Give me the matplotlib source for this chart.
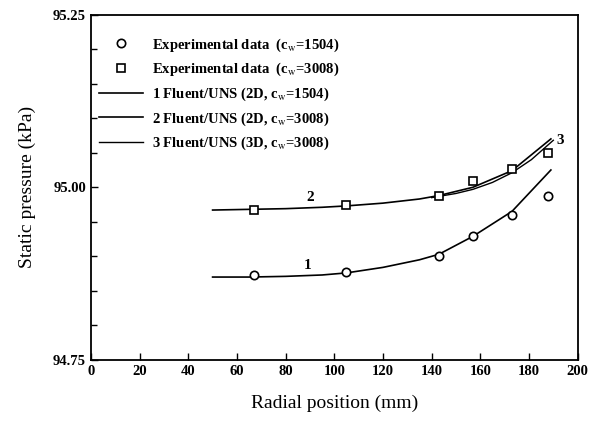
import numpy as np
import matplotlib.pyplot as plt
from matplotlib.ticker import MultipleLocator

plt.rcParams['font.family'] = ['Liberation Serif', 'DejaVu Serif']
plt.rcParams['mathtext.fontset'] = 'stix'

# experimental data
x_exp = [67, 105, 143, 157, 173, 188]
p_1504 = [94.873, 94.878, 94.901, 94.930, 94.960, 94.987]
p_3008 = [94.967, 94.974, 94.988, 95.009, 95.026, 95.050]

# Fluent/UNS curves
x_cfd = [50, 65, 80, 95, 105, 120, 135, 143, 157, 173, 189]
p_cfd1 = [94.870, 94.870, 94.871, 94.873, 94.876, 94.884, 94.895, 94.903, 94.929, 94.965, 95.025]
p_cfd2 = [94.967, 94.968, 94.969, 94.971, 94.973, 94.977, 94.983, 94.988, 95.000, 95.024, 95.070]
x_cfd3 = [140, 150, 157, 165, 173, 181, 190]
p_cfd3 = [94.985, 94.991, 94.997, 95.007, 95.021, 95.040, 95.068]

fig = plt.figure(figsize=(5.98, 4.28), dpi=100)
ax = fig.add_axes([0.152, 0.159, 0.814, 0.807])

ax.plot(x_exp, p_1504, 'o', mfc='white', mec='black', ms=6, mew=1.2,
        label=r'Experimental data  (c$_{\rm w}$=1504)', zorder=3)
ax.plot(x_exp, p_3008, 's', mfc='white', mec='black', ms=6, mew=1.2,
        label=r'Experimental data  (c$_{\rm w}$=3008)', zorder=3)
ax.plot(x_cfd, p_cfd1, '-', color='black', lw=1.2, label=r'1 Fluent/UNS (2D, c$_{\rm w}$=1504)')
ax.plot(x_cfd, p_cfd2, '-', color='black', lw=1.2, label=r'2 Fluent/UNS (2D, c$_{\rm w}$=3008)')
ax.plot(x_cfd3, p_cfd3, '-', color='black', lw=1.0, label=r'3 Fluent/UNS (3D, c$_{\rm w}$=3008)')

ax.text(89, 94.878, '1', fontsize=11, fontweight='bold', ha='center', va='bottom')
ax.text(90, 94.976, '2', fontsize=11, fontweight='bold', ha='center', va='bottom')
ax.text(193, 95.068, '3', fontsize=11, fontweight='bold', ha='center', va='center')

ax.set_xlim(0, 200)
ax.set_ylim(94.75, 95.25)
ax.set_xticks(np.arange(0, 201, 20))
ax.set_yticks([94.75, 95.00, 95.25])
ax.set_yticklabels(['94.75', '95.00', '95.25'])
ax.yaxis.set_minor_locator(MultipleLocator(0.05))
ax.tick_params(direction='in', length=5, width=1, labelsize=10.5)
ax.tick_params(which='minor', direction='in', length=4, width=1)
for lab in ax.get_xticklabels() + ax.get_yticklabels():
    lab.set_fontweight('bold')
for s in ax.spines.values():
    s.set_linewidth(1.3)

ax.set_xlabel('Radial position (mm)', fontsize=14, labelpad=12)
ax.set_ylabel('Static pressure (kPa)', fontsize=14, labelpad=12)

ax.legend(loc='upper left', bbox_to_anchor=(-0.01, 0.975), frameon=False,
          handlelength=3.0, handletextpad=0.6, labelspacing=0.5,
          prop={'weight': 'bold', 'size': 10.5})

fig.savefig('out.png', dpi=100)
